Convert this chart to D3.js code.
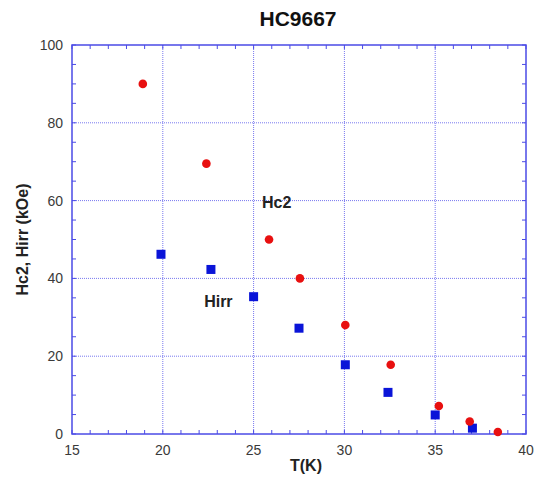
<!DOCTYPE html>
<html lang="en">
<head>
<meta charset="UTF-8">
<title>HC9667</title>
<script src="https://d3js.org/d3.v7.min.js"></script>
<style>
    body { margin: 0; background: #fff; }
    text { font-family: Arial, "Liberation Sans", sans-serif; }
    .tick-label { font-size: 14px; fill: #3a3a3a; }
    .axis-title { font-size: 16px; font-weight: bold; fill: #222; }
    .title { font-size: 21px; font-weight: bold; fill: #111; }
    .note { font-size: 16px; font-weight: bold; fill: #222; }
</style>
</head>
<body>
<div id="chart"></div>
<script>
    // Hc2 (red circles)
    var hc2T = [18.9, 22.4, 25.85, 27.55, 30.05, 32.55, 35.2, 36.9, 38.45];
    var hc2H = [90, 69.5, 50, 40, 28, 17.8, 7.2, 3.2, 0.5];
    // Hirr (blue squares)
    var hirrT = [19.9, 22.65, 25.0, 27.5, 30.05, 32.4, 35.0, 37.05];
    var hirrH = [46.2, 42.3, 35.3, 27.2, 17.8, 10.7, 4.9, 1.5];

    var xTicks = [15, 20, 25, 30, 35, 40];
    var yTicks = [0, 20, 40, 60, 80, 100];
    var xMinor = d3.range(15, 41, 1);
    var yMinor = d3.range(0, 101, 5);

    var W = 534, H = 480;
    var margin = { left: 72, right: 8, top: 45, bottom: 46 };
    var axisColor = "#4b4be6";
    var gridColor = "#7878f0";

    var x = d3.scaleLinear().domain([15, 40]).range([margin.left, W - margin.right]);
    var y = d3.scaleLinear().domain([0, 100]).range([H - margin.bottom, margin.top]);

    var svg = d3.select("#chart").append("svg")
        .attr("width", W)
        .attr("height", H);

    // grid
    svg.append("g").selectAll("line.vg")
        .data(xTicks.slice(1, -1))
        .enter().append("line")
        .attr("x1", d => x(d)).attr("x2", d => x(d))
        .attr("y1", y(0)).attr("y2", y(100))
        .attr("stroke", gridColor)
        .attr("stroke-width", 1)
        .attr("stroke-dasharray", "1,1");

    svg.append("g").selectAll("line.hg")
        .data(yTicks.slice(1, -1))
        .enter().append("line")
        .attr("x1", x(15)).attr("x2", x(40))
        .attr("y1", d => y(d)).attr("y2", d => y(d))
        .attr("stroke", gridColor)
        .attr("stroke-width", 1)
        .attr("stroke-dasharray", "1,1");

    // inward ticks on all four sides
    var tickLen = 4;
    var ticksG = svg.append("g").attr("stroke", axisColor).attr("stroke-width", 1);
    xMinor.forEach(function (d) {
        ticksG.append("line").attr("x1", x(d)).attr("x2", x(d)).attr("y1", y(0)).attr("y2", y(0) - tickLen);
        ticksG.append("line").attr("x1", x(d)).attr("x2", x(d)).attr("y1", y(100)).attr("y2", y(100) + tickLen);
    });
    yMinor.forEach(function (d) {
        ticksG.append("line").attr("x1", x(15)).attr("x2", x(15) + tickLen).attr("y1", y(d)).attr("y2", y(d));
        ticksG.append("line").attr("x1", x(40)).attr("x2", x(40) - tickLen).attr("y1", y(d)).attr("y2", y(d));
    });

    // frame
    svg.append("rect")
        .attr("x", x(15)).attr("y", y(100))
        .attr("width", x(40) - x(15))
        .attr("height", y(0) - y(100))
        .attr("fill", "none")
        .attr("stroke", axisColor)
        .attr("stroke-width", 1.5);

    // tick labels
    svg.append("g").selectAll("text")
        .data(xTicks)
        .enter().append("text")
        .attr("class", "tick-label")
        .attr("x", d => x(d))
        .attr("y", y(0) + 21)
        .attr("text-anchor", "middle")
        .text(d => d);

    svg.append("g").selectAll("text")
        .data(yTicks)
        .enter().append("text")
        .attr("class", "tick-label")
        .attr("x", x(15) - 9)
        .attr("y", d => y(d) + 5)
        .attr("text-anchor", "end")
        .text(d => d);

    // titles
    svg.append("text")
        .attr("class", "title")
        .attr("x", 298).attr("y", 26)
        .attr("text-anchor", "middle")
        .text("HC9667");

    svg.append("text")
        .attr("class", "axis-title")
        .attr("x", (x(15) + x(40)) / 2 + 7)
        .attr("y", H - 9)
        .attr("text-anchor", "middle")
        .text("T(K)");

    svg.append("text")
        .attr("class", "axis-title")
        .attr("transform", "translate(28," + y(50) + ") rotate(-90)")
        .attr("text-anchor", "middle")
        .text("Hc2, Hirr (kOe)");

    // data
    var hc2 = hc2T.map((t, i) => ({ t: t, h: hc2H[i] }));
    var hirr = hirrT.map((t, i) => ({ t: t, h: hirrH[i] }));

    svg.append("g").selectAll("rect")
        .data(hirr)
        .enter().append("rect")
        .attr("x", d => x(d.t) - 4.5)
        .attr("y", d => y(d.h) - 4.5)
        .attr("width", 9).attr("height", 9)
        .attr("fill", "#0a14d8");

    svg.append("g").selectAll("circle")
        .data(hc2)
        .enter().append("circle")
        .attr("cx", d => x(d.t))
        .attr("cy", d => y(d.h))
        .attr("r", 4.3)
        .attr("fill", "#e81010");

    // series annotations (baseline placed in data units)
    svg.append("text").attr("class", "note")
        .attr("x", x(26.27)).attr("y", y(58.1))
        .attr("text-anchor", "middle")
        .text("Hc2");
    svg.append("text").attr("class", "note")
        .attr("x", x(23.06)).attr("y", y(32.7))
        .attr("text-anchor", "middle")
        .text("Hirr");
</script>
</body>
</html>
